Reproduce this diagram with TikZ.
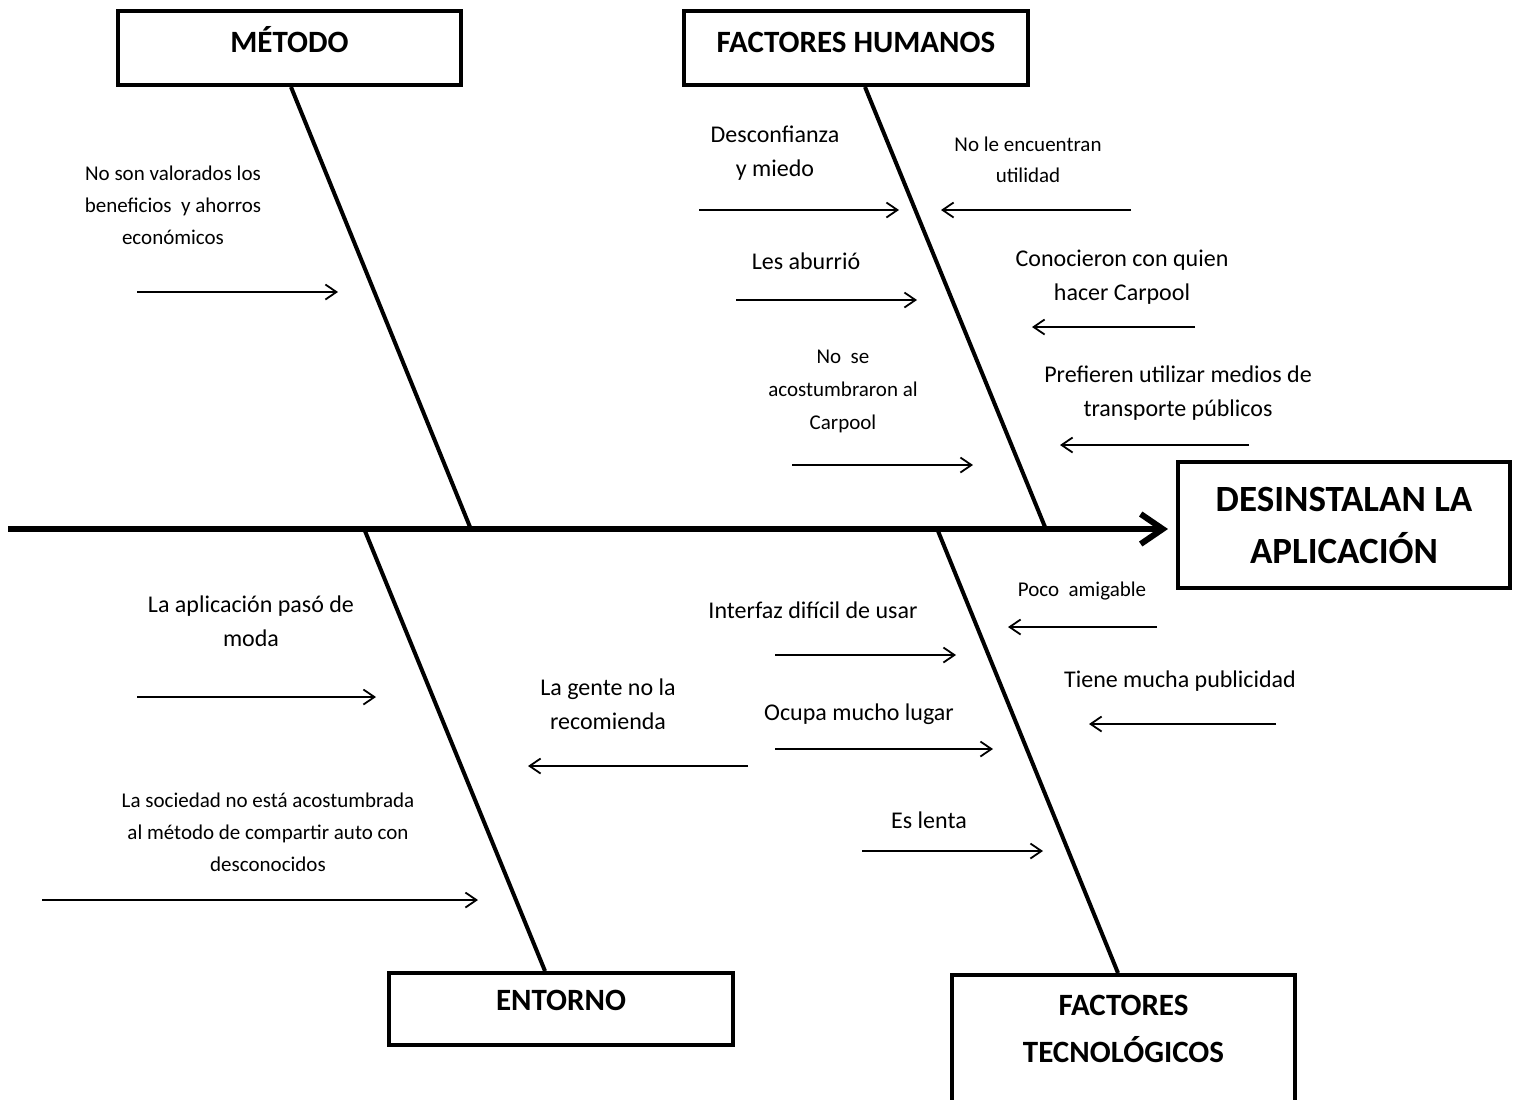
\documentclass[tikz,border=0pt]{standalone}
\usepackage{fontspec}
\setmainfont{Carlito}
\usetikzlibrary{arrows.meta}
\begin{document}
\begin{tikzpicture}[x=0.5pt,y=-0.5pt,
  catbox/.style={draw,line width=2pt,rectangle,inner sep=0pt,align=center,font=\bfseries\fontsize{15.5}{23.5}\selectfont},
  effbox/.style={draw,line width=2pt,rectangle,inner sep=0pt,align=center,font=\bfseries\fontsize{18.5}{26}\selectfont},
  bone/.style={line width=2pt},
  spine/.style={line width=3.2pt,-{Straight Barb[length=11pt,width=15pt,line width=3pt]}},
  cause/.style={line width=0.9pt,-{Straight Barb[length=5.5pt,width=7.5pt]}},
  med/.style={font=\fontsize{12}{17}\selectfont,align=center,inner sep=0pt},
  sml/.style={font=\fontsize{10.5}{16}\selectfont,align=center,inner sep=0pt}]
\useasboundingbox (0,0) rectangle (1519,1099);

% category boxes
\node[catbox,minimum width=171.5pt,minimum height=37pt,text depth=9pt] (metodo) at (289.5,48) {MÉTODO};
\node[catbox,minimum width=172pt,minimum height=37pt,text depth=6pt] (humanos) at (856,48) {FACTORES HUMANOS};
\node[catbox,minimum width=172pt,minimum height=36pt,text depth=9pt] (entorno) at (561,1009) {ENTORNO};
\node[catbox,minimum width=171.5pt,minimum height=64pt,text depth=10pt] (tecno) at (1123.5,1039) {FACTORES\\TECNOLÓGICOS};
\node[effbox,minimum width=166pt,minimum height=63pt] (efecto) at (1344,525) {DESINSTALAN LA\\APLICACIÓN};

% spine
\coordinate (tail) at (8,529);
\draw[spine,shorten >=4pt] (tail) -- (efecto.west |- tail);

% bones
\coordinate (mS) at (470,527);
\coordinate (hS) at (1045,527);
\coordinate (eS) at (365,531);
\coordinate (tS) at (938,531);
\draw[bone] ([xshift=0.75pt]metodo.south) -- (mS);
\draw[bone] ([xshift=4.5pt]humanos.south) -- (hS);
\draw[bone] (eS) -- ([xshift=-8pt]entorno.north);
\draw[bone] (tS) -- ([xshift=-2.75pt]tecno.north);

% METODO causes
\node[sml] (t1) at (173,205) {No son valorados los\\beneficios\ \ y ahorros\\económicos};
\coordinate (a1s) at (137,292); \coordinate (a1e) at (338,292);
\draw[cause] (a1s) -- (a1e);

% FACTORES HUMANOS causes
\node[med] (t2) at (775,153.5) {Desconfianza\\y miedo};
\coordinate (a2s) at (699,210); \coordinate (a2e) at (899,210);
\draw[cause] (a2s) -- (a2e);
\node[med] (t3) at (806,261) {Les aburrió};
\coordinate (a3s) at (736,300); \coordinate (a3e) at (917,300);
\draw[cause] (a3s) -- (a3e);
\node[sml,font=\fontsize{10.5}{16.5}\selectfont] (t4) at (843,391) {No\ \ se\\acostumbraron al\\Carpool};
\coordinate (a4s) at (792,465); \coordinate (a4e) at (973,465);
\draw[cause] (a4s) -- (a4e);
\node[sml,font=\fontsize{10.5}{15.5}\selectfont] (t5) at (1028,159.5) {No le encuentran\\utilidad};
\coordinate (a5s) at (1131,210); \coordinate (a5e) at (941,210);
\draw[cause] (a5s) -- (a5e);
\node[med] (t6) at (1122,277.5) {Conocieron con quien\\hacer Carpool};
\coordinate (a6s) at (1195,327); \coordinate (a6e) at (1032,327);
\draw[cause] (a6s) -- (a6e);
\node[med] (t7) at (1178,393) {Prefieren utilizar medios de\\transporte públicos};
\coordinate (a7s) at (1249,445); \coordinate (a7e) at (1060,445);
\draw[cause] (a7s) -- (a7e);

% ENTORNO causes
\node[med] (t8) at (251,621) {La aplicación pasó de\\moda};
\coordinate (a8s) at (137,697); \coordinate (a8e) at (376,697);
\draw[cause] (a8s) -- (a8e);
\node[sml] (t9) at (268,832.5) {La sociedad no está acostumbrada\\al método de compartir auto con\\desconocidos};
\coordinate (a9s) at (42,900); \coordinate (a9e) at (478,900);
\draw[cause] (a9s) -- (a9e);
\node[med] (t10) at (608,704.5) {La gente no la\\recomienda};
\coordinate (a10s) at (748,766); \coordinate (a10e) at (528,766);
\draw[cause] (a10s) -- (a10e);

% FACTORES TECNOLOGICOS causes
\node[med] (t11) at (813,610) {Interfaz difícil de usar};
\coordinate (a11s) at (775,655); \coordinate (a11e) at (956,655);
\draw[cause] (a11s) -- (a11e);
\node[med] (t12) at (859,714) {Ocupa mucho lugar};
\coordinate (a12s) at (775,749); \coordinate (a12e) at (993,749);
\draw[cause] (a12s) -- (a12e);
\node[med] (t13) at (929,820) {Es lenta};
\coordinate (a13s) at (862,851); \coordinate (a13e) at (1043,851);
\draw[cause] (a13s) -- (a13e);
\node[sml] (t14) at (1082,591) {Poco\ \ amigable};
\coordinate (a14s) at (1157,627); \coordinate (a14e) at (1008,627);
\draw[cause] (a14s) -- (a14e);
\node[med] (t15) at (1180,681) {Tiene mucha publicidad};
\coordinate (a15s) at (1276,724); \coordinate (a15e) at (1089,724);
\draw[cause] (a15s) -- (a15e);
\end{tikzpicture}
\end{document}
